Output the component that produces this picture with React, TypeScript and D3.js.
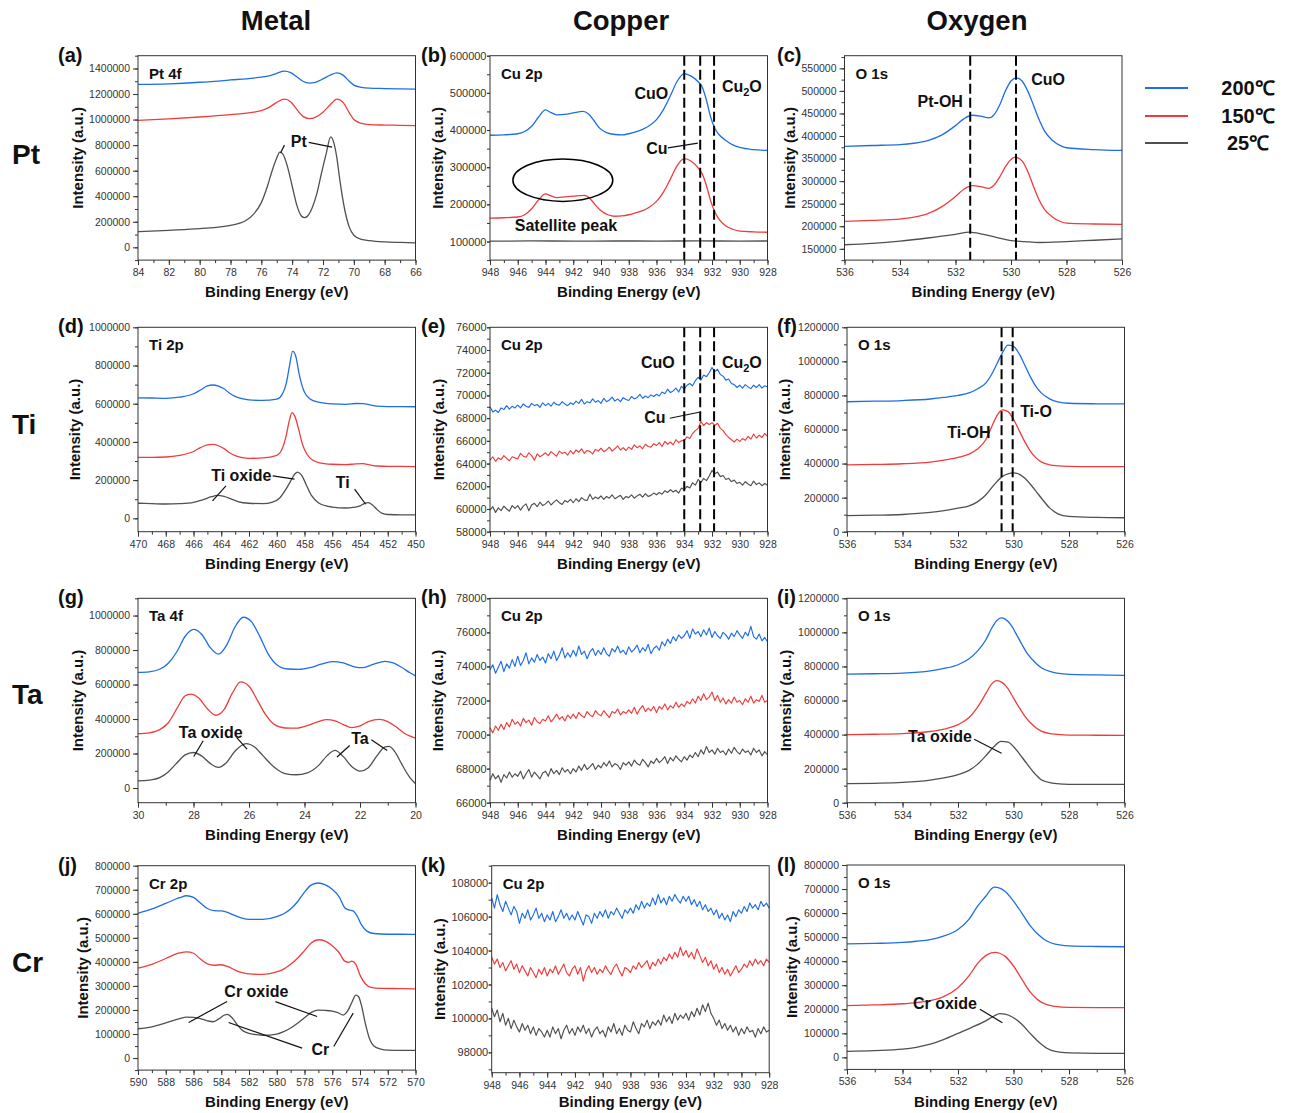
import React, { useEffect, useRef } from 'react';
import * as d3 from 'd3';

type Pt = [number, number];

const FONT = '"Liberation Sans", Arial, Helvetica, sans-serif';
const BLUE = '#1e6ee6';
const RED = '#f03c3c';
const GREY = '#505050';
const COLORS = [BLUE, RED, GREY];

const temps = ['200℃', '150℃', '25℃'];
const columnHeads = ['Metal', 'Copper', 'Oxygen'];
const rowHeads = ['Pt', 'Ti', 'Ta', 'Cr'];

// x tick labels (binding energy, eV)
const ticksPt = [84, 82, 80, 78, 76, 74, 72, 70, 68, 66];
const ticksCu = [948, 946, 944, 942, 940, 938, 936, 934, 932, 930, 928];
const ticksO = [536, 534, 532, 530, 528, 526];
const ticksTi = [470, 468, 466, 464, 462, 460, 458, 456, 454, 452, 450];
const ticksTa = [30, 28, 26, 24, 22, 20];
const ticksCr = [590, 588, 586, 584, 582, 580, 578, 576, 574, 572, 570];

// y tick labels
const yTicksA = [0, 200000, 400000, 600000, 800000, 1000000, 1200000, 1400000];
const yTicksB = [100000, 200000, 300000, 400000, 500000, 600000];
const yTicksC = [150000, 200000, 250000, 300000, 350000, 400000, 450000, 500000, 550000];
const yTicksD = [0, 200000, 400000, 600000, 800000, 1000000];
const yTicksE = [58000, 60000, 62000, 64000, 66000, 68000, 70000, 72000, 74000, 76000];
const yTicksF = [0, 200000, 400000, 600000, 800000, 1000000, 1200000];
const yTicksH = [66000, 68000, 70000, 72000, 74000, 76000, 78000];
const yTicksK = [98000, 100000, 102000, 104000, 106000, 108000];
const yTicksJ = [0, 100000, 200000, 300000, 400000, 500000, 600000, 700000, 800000];

// (a) Pt 4f
const ptBlue: Pt[] = [[84,1275000],[82,1280000],[80,1292000],[78,1310000],[76.5,1325000],[76,1332000],[75.5,1342000],[75,1362000],[74.5,1380000],[74.1,1368000],[73.7,1335000],[73.3,1300000],[72.9,1286000],[72.5,1292000],[72,1318000],[71.5,1350000],[71.1,1366000],[70.7,1348000],[70.3,1300000],[70,1270000],[69.5,1252000],[69,1246000],[68,1243000],[67,1240000],[66,1238000]];
const ptRed: Pt[] = [[84,994000],[82,1005000],[80,1020000],[78,1039000],[76.5,1058000],[76,1070000],[75.5,1095000],[75,1135000],[74.5,1160000],[74.1,1140000],[73.7,1080000],[73.3,1025000],[72.9,1008000],[72.5,1018000],[72,1058000],[71.5,1120000],[71.1,1160000],[70.7,1135000],[70.3,1055000],[70,1000000],[69.5,970000],[69,960000],[68,957000],[67,955000],[66,953000]];
const ptBlack: Pt[] = [[84,122000],[82,133000],[80,146000],[78,172000],[77,210000],[76.5,260000],[76,350000],[75.6,480000],[75.3,600000],[75,700000],[74.8,745000],[74.6,730000],[74.3,630000],[74,480000],[73.7,330000],[73.4,245000],[73.2,232000],[73,245000],[72.7,310000],[72.4,420000],[72.1,580000],[71.8,730000],[71.5,865000],[71.3,820000],[71.1,700000],[70.9,520000],[70.6,300000],[70.3,160000],[70,95000],[69.5,62000],[69,52000],[68,42000],[67,38000],[66,35000]];

// (b) Cu 2p with Pt
const cuBBlue: Pt[] = [[948,386000],[947,387000],[946,390000],[945.5,396000],[945,410000],[944.5,435000],[944,454000],[943.6,447000],[943.2,441000],[942.6,442000],[942,446000],[941.3,450000],[940.9,443000],[940.5,425000],[940.1,405000],[939.6,393000],[939,388000],[938.5,387000],[938,390000],[937.5,395000],[937,402000],[936.5,412000],[936,428000],[935.5,455000],[935,492000],[934.5,532000],[934,552000],[933.5,545000],[933,530000],[932.7,515000],[932.4,480000],[932.1,435000],[931.8,405000],[931.5,388000],[931,372000],[930.5,360000],[930,353000],[929,347000],[928,345000]];
const cuBRed: Pt[] = [[948,163000],[947,164000],[946,166000],[945.5,172000],[945,188000],[944.5,212000],[944,228000],[943.6,223000],[943.2,218000],[942.6,220000],[942,222000],[941.2,224000],[940.8,216000],[940.4,198000],[940,183000],[939.5,172000],[939,168000],[938.5,169000],[938,172000],[937.5,177000],[937,183000],[936.5,193000],[936,208000],[935.5,233000],[935,268000],[934.5,305000],[934,323000],[933.5,316000],[933,298000],[932.7,282000],[932.4,250000],[932.1,210000],[931.8,180000],[931.5,160000],[931,142000],[930.5,133000],[930,128000],[929,126000],[928,125000]];
const cuBBlack: Pt[] = [[948,101000],[945,101500],[942,101200],[939,101400],[936,101300],[933,101600],[930,101300],[928,101400]];

// (c) O 1s with Pt
const oCBlue: Pt[] = [[536,377000],[535,379000],[534,381000],[533.5,384000],[533,390000],[532.5,402000],[532,423000],[531.7,438000],[531.4,446000],[531.1,444000],[530.8,440000],[530.6,448000],[530.4,470000],[530.2,500000],[530,522000],[529.8,529000],[529.6,522000],[529.4,500000],[529.2,470000],[529,438000],[528.8,412000],[528.5,390000],[528.2,378000],[528,374000],[527,370000],[526,368000]];
const oCRed: Pt[] = [[536,211000],[535,213000],[534,216000],[533.5,220000],[533,228000],[532.5,243000],[532,266000],[531.7,282000],[531.4,290000],[531.1,288000],[530.8,284000],[530.6,292000],[530.4,310000],[530.2,332000],[530,348000],[529.85,353000],[529.6,345000],[529.4,322000],[529.2,290000],[529,260000],[528.8,238000],[528.5,220000],[528.2,210000],[528,207000],[527,205000],[526,204000]];
const oCBlack: Pt[] = [[536,159000],[535,162000],[534,167000],[533,174000],[532.5,178000],[532,182000],[531.5,187000],[531,182000],[530.5,175000],[530,168000],[529.5,166000],[529,164000],[528,166000],[527,169000],[526,172000]];

// (d) Ti 2p
const tiBlue: Pt[] = [[470,631000],[469,630000],[468,628000],[467,634000],[466,652000],[465.5,672000],[465,693000],[464.6,698000],[464.2,692000],[463.8,678000],[463.4,655000],[463,638000],[462.5,626000],[462,620000],[461,617000],[460,624000],[459.6,650000],[459.3,710000],[459.1,790000],[458.85,875000],[458.6,840000],[458.4,760000],[458.2,700000],[458,660000],[457.6,625000],[457,608000],[456,599000],[455,597000],[454.3,601000],[453.8,600000],[453.3,594000],[452.8,587000],[452,585000],[451,585000],[450,584000]];
const tiRed: Pt[] = [[470,319000],[469,319000],[468,321000],[467,330000],[466,350000],[465.5,370000],[465,384000],[464.6,387000],[464.2,380000],[463.8,365000],[463.4,343000],[463,328000],[462.5,318000],[462,314000],[461,316000],[460,330000],[459.6,365000],[459.3,440000],[459.1,510000],[458.9,553000],[458.7,535000],[458.4,460000],[458.2,400000],[458,360000],[457.6,315000],[457,292000],[456,283000],[455,281000],[454.3,285000],[453.8,286000],[453.3,280000],[452.8,274000],[452,272000],[451,272000],[450,271000]];
const tiBlack: Pt[] = [[470,79000],[469,77000],[468,75000],[467,77000],[466,84000],[465.3,98000],[464.7,113000],[464.3,120000],[463.8,115000],[463.3,102000],[462.8,88000],[462,79000],[461,77000],[460.3,85000],[459.8,105000],[459.4,145000],[459,195000],[458.7,232000],[458.5,242000],[458.2,225000],[457.9,180000],[457.5,120000],[457,82000],[456.5,66000],[456,59000],[455,54000],[454.5,57000],[454,65000],[453.7,77000],[453.4,82000],[453.1,70000],[452.8,48000],[452.4,26000],[452,20000],[451,18000],[450,18000]];

// noisy Cu 2p scans, 948 -> 928 eV every 0.2 eV
const eBlue = [
  69000, 68550, 68700, 68500, 68900, 68750, 69100, 68800, 69050, 68900,
  69150, 68900, 69250, 69050, 68950, 69300, 69100, 69200, 68950, 69350,
  69100, 69300, 69050, 69400, 69200, 69150, 69450, 69250, 69100, 69350,
  69200, 69500, 69300, 69650, 69250, 69450, 69350, 69700, 69400, 69550,
  69300, 69750, 69450, 69600, 69850, 69500, 69700, 69450, 69800, 69650,
  69550, 69900, 69700, 69800, 70100, 69750, 69950, 69800, 70050, 69900,
  70100, 69950, 70300, 70150, 70550, 70250, 70400, 70650, 70300, 70800,
  70550, 70900, 71050, 70850, 71300, 71600, 71350, 71800, 71650, 72000,
  72450, 72100, 72300, 71850, 71700, 71350, 71450, 71050, 70950, 70700,
  70900, 70650, 70950, 70750, 70600, 70900, 70700, 70950, 70650, 70850,
  70750];
const eRed = [
  64300, 64600, 64200, 64500, 64350, 64700, 64450, 64250, 64600, 64500,
  64400, 64900, 64650, 64550, 64950, 64700, 64300, 64850, 64600, 64750,
  64950, 64700, 65050, 64850, 64650, 65100, 64900, 65000, 64750, 65150,
  64850, 65200, 65000, 65300, 64900, 65150, 65050, 64850, 65250, 65100,
  65350, 65050, 65200, 65450, 65100, 65300, 65550, 65200, 65400, 65150,
  65450, 65250, 65650, 65400, 65550, 65300, 65700, 65500, 65450, 65750,
  65600, 65850, 65500, 65950, 65700, 65900, 65650, 66100, 65850, 66000,
  66050, 66350, 66200, 66650, 66900, 67100, 67700, 67350, 67600, 67450,
  67600, 67350, 67550, 67100, 66900, 66550, 66300, 66100, 65900, 66150,
  65950, 66200, 66050, 66400, 66150, 66600, 66250, 66500, 66300, 66650,
  66400];
const eBlack = [
  59900, 60200, 59700, 60100, 59850, 60250, 60000, 59800, 60300, 60050,
  60300, 59900, 60250, 60450, 59850, 60350, 60500, 60200, 60600, 60300,
  60450, 60700, 60350, 60600, 60800, 60550, 60400, 60750, 60600, 60850,
  60550, 60900, 60650, 61000, 60800, 60750, 61300, 60850, 61050, 60900,
  61150, 60850, 61100, 60950, 61250, 60900, 61050, 61200, 60850, 61100,
  61000, 61250, 60950, 61150, 61300, 61050, 61350, 61100, 61200, 61400,
  61250, 61450, 61300, 61600, 61450, 61700, 61500, 61650, 61400, 61850,
  61700, 62000, 61850, 62300, 62100, 62600, 62350, 62700, 62500, 62900,
  63400, 63100, 63250, 62850, 62950, 62600, 62700, 62400, 62550, 62250,
  62350, 62100, 62400, 62200, 62050, 62450, 62150, 62300, 62050, 62250,
  62100];

const hBlue = [
  73800, 74100, 73600, 73950, 74300, 73700, 74150, 73900, 74400, 74000,
  74600, 74050, 74350, 74800, 74150, 74500, 74250, 74700, 74350, 74550,
  74200, 74750, 74450, 74900, 74350, 74650, 75100, 74500, 74800, 74550,
  74950, 74600, 75200, 74700, 74900, 74450, 74850, 75050, 74650, 74950,
  74700, 75100, 74750, 74600, 75050, 74850, 75200, 74800, 74950, 74700,
  75150, 74850, 75000, 75250, 74800, 75100, 74900, 75300, 74750, 75050,
  75200, 74950, 75450, 75200, 75600, 75350, 75750, 75500, 75850, 75650,
  75800, 76100, 75650, 76200, 75900, 76050, 75750, 76150, 75850, 76250,
  75700, 76050, 75800, 75650, 76000, 75850, 75600, 75950, 75750, 76100,
  75850, 75650, 76000, 75800, 76350, 75750, 75600, 75900, 75500, 75700,
  75450];
const hRed = [
  70400, 70100, 70500, 70250, 70600, 70300, 70700, 70450, 70900, 70600,
  70750, 70500, 70950, 70700, 70850, 70550, 71000, 70750, 70650, 70900,
  70800, 71100, 70750, 70950, 71200, 70900, 71050, 70800, 71150, 70950,
  71200, 70950, 71300, 71100, 71000, 71350, 71150, 71050, 71400, 71200,
  71100, 71400, 71200, 71000, 71350, 71250, 71500, 71150, 71350, 71250,
  71450, 71250, 71600, 71200, 71500, 71700, 71350, 71550, 71400, 71650,
  71300, 71650, 71500, 71800, 71450, 71700, 71550, 71900, 71600, 71800,
  71650, 71950, 71800, 72100, 71850, 72250, 72000, 72400, 72050, 72200,
  72500, 72000, 72300, 71900, 72150, 71800, 72050, 71850, 72200, 71900,
  72000, 71750, 72100, 71900, 72250, 71850, 72050, 71950, 72300, 71900,
  72000];
const hBlack = [
  67300, 67700, 67400, 67600, 67200, 67650, 67450, 67800, 67500, 67700,
  67550, 67850, 67400, 67700, 67950, 67500, 67800, 67600, 67400, 67750,
  67850, 67550, 68000, 67700, 67900, 67650, 68050, 67800, 67950, 67700,
  68000, 67800, 68150, 67900, 68250, 67950, 68100, 68300, 67950, 68200,
  68050, 68350, 68150, 68450, 68100, 68300, 68200, 67950, 68350, 68200,
  68400, 68150, 68500, 68300, 68200, 68550, 68350, 68100, 68450, 68300,
  68600, 68350, 68500, 68700, 68300, 68650, 68450, 68750, 68550, 68400,
  68700, 68500, 68800, 68650, 68950, 68700, 69100, 68850, 69300, 68950,
  69100, 68850, 69200, 68950, 69050, 68800, 69150, 68900, 69250, 69000,
  68850, 69150, 68950, 69050, 68800, 69200, 68950, 69100, 68750, 69000,
  68800];

const kBlue = [
  107100, 106500, 107300, 106700, 106300, 106900, 106500, 106100, 106600, 106300,
  105600, 106200, 105900, 106400, 105800, 106100, 106500, 105900, 106200, 105700,
  106100, 105800, 106300, 105700, 106000, 106400, 105900, 106200, 105800, 106100,
  105800, 106300, 105900, 105500, 106100, 106000, 105600, 106200, 105900, 106300,
  106000, 106400, 105900, 106300, 106100, 106500, 106200, 105900, 106400, 106200,
  106500, 106200, 106700, 106400, 106900, 106500, 106800, 106600, 107100, 106700,
  107300, 106800, 107100, 106700, 107200, 106900, 107300, 107000, 106800, 107200,
  106900, 107200, 106700, 107000, 106600, 106900, 106400, 106700, 106300, 106500,
  106100, 106400, 105900, 106200, 105800, 106100, 105700, 106300, 106000, 106400,
  106200, 106600, 106300, 106800, 106500, 106700, 106400, 106900, 106600, 106800,
  106500];
const kRed = [
  103600, 103200, 103500, 103000, 103300, 102800, 103100, 103400, 102900, 103200,
  102700, 103100, 102800, 102500, 103000, 102700, 102400, 102900, 102600, 103000,
  102500, 102900, 102700, 103100, 102600, 102900, 103200, 102700, 102500, 102900,
  103100, 102600, 103000, 102200, 102800, 103100, 102700, 103000, 102600, 102900,
  102700, 103100, 102800, 102600, 103000, 103200, 102800, 102500, 103000, 102900,
  102700, 103100, 102900, 103300, 103000, 103200, 103400, 102900, 103300, 103100,
  103500, 103200, 103600, 103400, 103800, 103500, 103900, 103600, 104200, 103700,
  104000, 103600, 103900, 103500, 104100, 103700, 103300, 103600, 103100, 103400,
  102900, 103200, 102700, 103000, 102600, 102900, 102500, 102800, 103100, 102700,
  102900, 103200, 103000, 103400, 103100, 103500, 103200, 103400, 103100, 103500,
  103300];
const kBlack = [
  100600, 100100, 100500, 99800, 100300, 99600, 100000, 99400, 99900, 99500,
  99200, 99700, 99300, 99600, 99100, 99500, 99000, 99400, 99200, 98900,
  99300, 98900, 99500, 99100, 99400, 98800, 99300, 99600, 99100, 99400,
  99000, 99500, 99200, 99600, 99100, 99400, 98900, 99300, 99500, 99100,
  99300, 98900, 99500, 99200, 99700, 99100, 99400, 99000, 99600, 99300,
  99200, 99800, 99400, 99100, 99700, 99500, 99900, 99400, 99800, 99600,
  99900, 99600, 100200, 99800, 100100, 99700, 100300, 99900, 100200, 100000,
  100300, 99900, 100400, 100100, 100600, 100200, 100800, 100400, 100900, 100300,
  100000, 99600, 99900, 99400, 99700, 99300, 99600, 99200, 99500, 99000,
  99400, 99100, 99500, 99200, 99300, 98900, 99400, 99100, 99500, 99200,
  99300];

// (f) O 1s with Ti
const ofBlue: Pt[] = [[536,763000],[535,766000],[534,770000],[533,779000],[532.5,788000],[532,800000],[531.6,815000],[531.3,838000],[531,872000],[530.8,920000],[530.6,985000],[530.4,1050000],[530.2,1095000],[530,1088000],[529.8,1045000],[529.6,980000],[529.4,912000],[529.2,855000],[529,815000],[528.7,780000],[528.4,762000],[528,754000],[527,751000],[526,750000]];
const ofRed: Pt[] = [[536,392000],[535,395000],[534,399000],[533,409000],[532.5,420000],[532,436000],[531.6,455000],[531.3,485000],[531,540000],[530.8,610000],[530.6,680000],[530.4,715000],[530.2,705000],[530,660000],[529.8,595000],[529.6,530000],[529.4,475000],[529.2,435000],[529,410000],[528.7,393000],[528.4,387000],[528,384000],[527,382000],[526,382000]];
const ofBlack: Pt[] = [[536,94000],[535,97000],[534,101000],[533,113000],[532.5,124000],[532,138000],[531.6,152000],[531.3,175000],[531,215000],[530.7,275000],[530.4,325000],[530.2,340000],[530,345000],[529.8,338000],[529.6,315000],[529.4,280000],[529.2,240000],[529,198000],[528.7,140000],[528.4,105000],[528,90000],[527,84000],[526,82000]];

// (g) Ta 4f
const taBlue: Pt[] = [[30,671000],[29.6,674000],[29.2,690000],[28.9,725000],[28.6,790000],[28.3,880000],[28,920000],[27.7,890000],[27.4,815000],[27.1,776000],[26.8,830000],[26.5,935000],[26.2,990000],[25.9,962000],[25.6,875000],[25.3,775000],[25,715000],[24.6,690000],[24.2,688000],[23.8,698000],[23.4,718000],[23,733000],[22.6,725000],[22.2,703000],[21.9,698000],[21.5,718000],[21.1,734000],[20.8,725000],[20.5,700000],[20.2,668000],[20,650000]];
const taRed: Pt[] = [[30,315000],[29.6,320000],[29.2,340000],[28.9,380000],[28.6,460000],[28.3,535000],[28.1,545000],[27.8,520000],[27.5,460000],[27.2,422000],[26.9,455000],[26.6,550000],[26.3,615000],[26,590000],[25.7,510000],[25.4,425000],[25.1,370000],[24.7,348000],[24.3,347000],[23.9,362000],[23.5,385000],[23.2,397000],[22.9,390000],[22.6,368000],[22.3,350000],[22,360000],[21.7,385000],[21.3,398000],[21,385000],[20.7,355000],[20.4,318000],[20,290000]];
const taBlack: Pt[] = [[30,42000],[29.6,46000],[29.2,62000],[28.9,95000],[28.6,145000],[28.3,192000],[28,206000],[27.7,185000],[27.4,143000],[27.1,120000],[26.8,150000],[26.5,215000],[26.1,258000],[25.8,238000],[25.5,188000],[25.1,122000],[24.7,84000],[24.3,77000],[23.9,88000],[23.5,130000],[23.2,185000],[22.9,218000],[22.6,182000],[22.3,125000],[22,98000],[21.7,118000],[21.4,185000],[21.1,238000],[20.95,242000],[20.7,200000],[20.5,140000],[20.2,60000],[20,25000]];

// (i) O 1s with Ta
const oiBlue: Pt[] = [[536,755000],[535,757000],[534,761000],[533,774000],[532.5,788000],[532,810000],[531.6,845000],[531.3,890000],[531,955000],[530.8,1020000],[530.6,1070000],[530.45,1085000],[530.3,1078000],[530.1,1045000],[529.9,990000],[529.7,930000],[529.5,875000],[529.2,820000],[529,792000],[528.6,767000],[528.2,756000],[528,753000],[527,750000],[526,748000]];
const oiRed: Pt[] = [[536,400000],[535,402000],[534,406000],[533,418000],[532.5,432000],[532,458000],[531.6,500000],[531.3,560000],[531,640000],[530.8,695000],[530.6,717000],[530.4,705000],[530.2,670000],[530,615000],[529.8,560000],[529.6,510000],[529.3,455000],[529,420000],[528.6,404000],[528.2,398000],[528,397000],[527,396000],[526,395000]];
const oiBlack: Pt[] = [[536,112000],[535,114000],[534,119000],[533,133000],[532.5,146000],[532,165000],[531.6,190000],[531.3,225000],[531,275000],[530.7,330000],[530.45,360000],[530.2,355000],[530,330000],[529.8,290000],[529.5,225000],[529.2,165000],[529,135000],[528.6,115000],[528.2,109000],[528,108000],[527,107000],[526,107000]];

// (j) Cr 2p
const crBlue: Pt[] = [[590,602000],[589,620000],[588,643000],[587,667000],[586.5,675000],[586,668000],[585.5,645000],[585,622000],[584.5,613000],[584,612000],[583.5,605000],[583,592000],[582.5,582000],[582,577000],[581,577000],[580,588000],[579.5,600000],[579,620000],[578.5,650000],[578,690000],[577.5,720000],[577,728000],[576.5,720000],[576,702000],[575.5,670000],[575.1,625000],[574.8,616000],[574.5,612000],[574.2,590000],[573.9,555000],[573.5,528000],[573,518000],[572,515000],[571,515000],[570,514000]];
const crRed: Pt[] = [[590,374000],[589,390000],[588,414000],[587,437000],[586.5,442000],[586,436000],[585.5,412000],[585,392000],[584.5,386000],[584,388000],[583.5,380000],[583,366000],[582.5,355000],[582,350000],[581,348000],[580,358000],[579.5,370000],[579,390000],[578.5,415000],[578,447000],[577.5,480000],[577,492000],[576.5,486000],[576,467000],[575.5,438000],[575.1,403000],[574.8,398000],[574.6,403000],[574.3,390000],[574,345000],[573.6,308000],[573.2,294000],[572.5,290000],[571,289000],[570,288000]];
const crBlack: Pt[] = [[590,122000],[589,130000],[588,146000],[587,164000],[586.5,170000],[586,169000],[585.5,164000],[585,155000],[584.6,151000],[584.2,162000],[583.8,178000],[583.55,182000],[583.2,166000],[582.8,135000],[582.4,112000],[582,103000],[581,95000],[580,100000],[579.5,110000],[579,125000],[578.5,145000],[578,168000],[577.5,190000],[577,199000],[576.5,198000],[576,195000],[575.6,189000],[575.2,179000],[574.9,195000],[574.6,230000],[574.3,262000],[574.1,255000],[573.9,220000],[573.6,140000],[573.3,78000],[573,50000],[572.5,37000],[572,33000],[571,32000],[570,32000]];

// (l) O 1s with Cr
const olBlue: Pt[] = [[536,472000],[535,474000],[534,478000],[533.5,483000],[533,490000],[532.5,505000],[532,532000],[531.6,575000],[531.3,628000],[531,670000],[530.8,700000],[530.7,708000],[530.5,704000],[530.3,690000],[530,650000],[529.7,600000],[529.4,548000],[529.1,510000],[528.8,484000],[528.5,471000],[528,464000],[527,461000],[526,460000]];
const olRed: Pt[] = [[536,215000],[535,218000],[534,223000],[533.5,228000],[533,236000],[532.5,254000],[532,290000],[531.6,340000],[531.3,390000],[531,423000],[530.8,435000],[530.65,437000],[530.5,433000],[530.3,420000],[530,380000],[529.7,325000],[529.4,272000],[529.1,237000],[528.8,219000],[528.5,212000],[528,208000],[527,207000],[526,207000]];
const olBlack: Pt[] = [[536,25000],[535,28000],[534,34000],[533.5,42000],[533,55000],[532.5,75000],[532,100000],[531.5,125000],[531,152000],[530.7,172000],[530.5,182000],[530.3,180000],[530,165000],[529.7,138000],[529.4,100000],[529.1,65000],[528.8,38000],[528.5,25000],[528,19000],[527,17000],[526,17000]];

// sampling grid of the noisy Cu 2p scans
const cuGrid = d3.range(101).map(i => 948 - i * 0.2);
const onGrid = (vals: number[]): Pt[] => vals.map((v, i) => [cuGrid[i], v]);

const cuLines = [934.0, 932.85, 931.85];

interface Note { t: string; at: Pt; sub?: boolean }
interface Panel {
  id: string; title: string; row: number; col: number;
  x: [number, number]; y: [number, number];
  xTicks: number[]; yTicks: number[]; xMinor: number; yMinor: number;
  series: Pt[][]; noisy?: boolean; dashes?: number[];
  notes?: Note[]; leaders?: [Pt, Pt][]; ellipse?: { c: Pt; rx: number; ry: number };
}

const panels: Panel[] = [
  { id: 'a', title: 'Pt 4f', row: 0, col: 0, x: [84, 66], y: [-100000, 1500000], xTicks: ticksPt, yTicks: yTicksA, xMinor: 1, yMinor: 100000,
    series: [ptBlue, ptRed, ptBlack],
    notes: [{ t: 'Pt', at: [73.57, 787000] }],
    leaders: [[[74.5, 800000], [74.75, 740000]], [[72.93, 821000], [71.41, 785000]]] },
  { id: 'b', title: 'Cu 2p', row: 0, col: 1, x: [948, 928], y: [50000, 600000], xTicks: ticksCu, yTicks: yTicksB, xMinor: 1, yMinor: 50000,
    series: [cuBBlue, cuBRed, cuBBlack], dashes: cuLines,
    notes: [{ t: 'CuO', at: [936.37, 483000] }, { t: 'Cu2O', at: [929.85, 502000], sub: true }, { t: 'Cu', at: [935.97, 336000] }, { t: 'Satellite peak', at: [942.53, 127000] }],
    leaders: [[[935.18, 352000], [933.02, 365000]]],
    ellipse: { c: [942.75, 265000], rx: 3.6, ry: 57000 } },
  { id: 'c', title: 'O 1s', row: 0, col: 2, x: [536, 526], y: [125000, 578000], xTicks: ticksO, yTicks: yTicksC, xMinor: 1, yMinor: 25000,
    series: [oCBlue, oCRed, oCBlack], dashes: [531.47, 529.82],
    notes: [{ t: 'Pt-OH', at: [532.55, 465000] }, { t: 'CuO', at: [528.66, 513500] }] },
  { id: 'd', title: 'Ti 2p', row: 1, col: 0, x: [470, 450], y: [-70000, 1000000], xTicks: ticksTi, yTicks: yTicksD, xMinor: 1, yMinor: 100000,
    series: [tiBlue, tiRed, tiBlack],
    notes: [{ t: 'Ti oxide', at: [462.56, 196000] }, { t: 'Ti', at: [455.25, 159500] }],
    leaders: [[[463.66, 170000], [464.63, 91000]], [[460.29, 222600], [458.72, 205000]], [[454.39, 152600], [453.59, 73700]]] },
  { id: 'e', title: 'Cu 2p', row: 1, col: 1, x: [948, 928], y: [58000, 76000], xTicks: ticksCu, yTicks: yTicksE, xMinor: 1, yMinor: 1000,
    series: [onGrid(eBlue), onGrid(eRed), onGrid(eBlack)], noisy: true, dashes: cuLines,
    notes: [{ t: 'CuO', at: [935.9, 72417] }, { t: 'Cu2O', at: [929.85, 72417], sub: true }, { t: 'Cu', at: [936.12, 67575] }],
    leaders: [[[935.04, 67989], [932.93, 68517]]] },
  { id: 'f', title: 'O 1s', row: 1, col: 2, x: [536, 526], y: [0, 1200000], xTicks: ticksO, yTicks: yTicksF, xMinor: 1, yMinor: 100000,
    series: [ofBlue, ofRed, ofBlack], dashes: [530.43, 530.03],
    notes: [{ t: 'Ti-OH', at: [531.61, 548000] }, { t: 'Ti-O', at: [529.19, 673500] }] },
  { id: 'g', title: 'Ta 4f', row: 2, col: 0, x: [30, 20], y: [-85000, 1100000], xTicks: ticksTa, yTicks: yTicksD, xMinor: 1, yMinor: 100000,
    series: [taBlue, taRed, taBlack],
    notes: [{ t: 'Ta oxide', at: [27.38, 292000] }, { t: 'Ta', at: [22.0, 257000] }],
    leaders: [[[27.65, 274000], [27.99, 183000]], [[26.45, 293600], [26.07, 226000]], [[22.37, 247000], [22.83, 180000]], [[21.59, 280000], [21.02, 218000]]] },
  { id: 'h', title: 'Cu 2p', row: 2, col: 1, x: [948, 928], y: [66000, 78000], xTicks: ticksCu, yTicks: yTicksH, xMinor: 1, yMinor: 1000,
    series: [onGrid(hBlue), onGrid(hRed), onGrid(hBlack)], noisy: true },
  { id: 'i', title: 'O 1s', row: 2, col: 2, x: [536, 526], y: [0, 1200000], xTicks: ticksO, yTicks: yTicksF, xMinor: 1, yMinor: 100000,
    series: [oiBlue, oiRed, oiBlack],
    notes: [{ t: 'Ta oxide', at: [532.65, 359000] }],
    leaders: [[[531.42, 372000], [530.43, 290000]]] },
  { id: 'j', title: 'Cr 2p', row: 3, col: 0, x: [590, 570], y: [-50000, 800000], xTicks: ticksCr, yTicks: yTicksJ, xMinor: 1, yMinor: 50000,
    series: [crBlue, crRed, crBlack],
    notes: [{ t: 'Cr oxide', at: [581.47, 254600] }, { t: 'Cr', at: [576.85, 13700] }],
    leaders: [[[583.58, 235000], [586.35, 148000]], [[580.1, 235000], [577.09, 172800]], [[578.17, 41500], [583.47, 148000]], [[575.89, 48000], [574.49, 187000]]] },
  { id: 'k', title: 'Cu 2p', row: 3, col: 1, x: [948, 928], y: [96800, 109000], xTicks: ticksCu, yTicks: yTicksK, xMinor: 1, yMinor: 1000,
    series: [onGrid(kBlue), onGrid(kRed), onGrid(kBlack)], noisy: true },
  { id: 'l', title: 'O 1s', row: 3, col: 2, x: [536, 526], y: [-50000, 800000], xTicks: ticksO, yTicks: yTicksJ, xMinor: 1, yMinor: 50000,
    series: [olBlue, olRed, olBlack],
    notes: [{ t: 'Cr oxide', at: [532.47, 201000] }],
    leaders: [[[531.21, 200000], [530.4, 144000]]] },
];

// layout of the grid
const colLeft = [138, 490, 847];
const rowTop = [55.7, 327.3, 598.3, 865.7];
const plotW = 277.5;
const plotH = 204.4;
const labelX = [58, 421, 777];
// distance of the rotated y title from the plot edge
const yTitleGap: Record<string, number> = { a: 55, b: 47, c: 50, d: 58, e: 46, f: 57, g: 55, h: 47, i: 56, j: 50, k: 47, l: 50 };
const boxFor = (p: Panel) => {
  let left = colLeft[p.col];
  let top = rowTop[p.row];
  let h = plotH;
  if (p.id === 'c') left = 844.5;
  if (p.id === 'k') { left = 491.7; h = 207; }
  if (p.id === 'l') top = 865;
  return { left, top, w: plotW, h };
};

const App = () => {
  const svgRef = useRef<SVGSVGElement>(null);

  useEffect(() => {
    const svg = d3.select(svgRef.current);
    svg.selectAll('*').remove();
    svg.append('rect').attr('width', 1292).attr('height', 1113).attr('fill', '#fff');

    panels.forEach(p => {
      const b = boxFor(p);
      const x = d3.scaleLinear().domain(p.x).range([b.left, b.left + b.w]);
      const y = d3.scaleLinear().domain(p.y).range([b.top + b.h, b.top]);
      const g = svg.append('g');
      const midCol = p.col === 1;

      const line = d3.line<Pt>()
        .x(d => x(d[0]))
        .y(d => y(d[1]))
        .curve(p.noisy ? d3.curveLinear : d3.curveMonotoneX);

      p.series.forEach((s, i) => {
        g.append('path')
          .attr('d', line(s))
          .attr('fill', 'none')
          .attr('stroke', COLORS[i])
          .attr('stroke-width', p.noisy ? 1.15 : 1.3)
          .attr('stroke-linejoin', 'round');
      });

      (p.dashes || []).forEach(e => {
        g.append('line')
          .attr('x1', x(e)).attr('x2', x(e))
          .attr('y1', b.top).attr('y2', b.top + b.h)
          .attr('stroke', '#000')
          .attr('stroke-width', 2)
          .attr('stroke-dasharray', '10,4');
      });

      // frame
      g.append('rect')
        .attr('x', b.left).attr('y', b.top)
        .attr('width', b.w).attr('height', b.h)
        .attr('fill', 'none')
        .attr('stroke', '#333')
        .attr('stroke-width', 1);

      // minor ticks
      const xMin = d3.range(Math.min(...p.x), Math.max(...p.x) + 0.001, p.xMinor);
      const yMin = d3.range(Math.ceil(p.y[0] / p.yMinor) * p.yMinor, p.y[1] + 1, p.yMinor);
      g.append('g')
        .attr('transform', `translate(0,${b.top + b.h})`)
        .call(d3.axisBottom(x).tickValues(xMin).tickSize(3).tickFormat(() => ''))
        .call(a => a.select('.domain').remove());
      g.append('g')
        .attr('transform', `translate(${b.left},0)`)
        .call(d3.axisLeft(y).tickValues(yMin).tickSize(3).tickFormat(() => ''))
        .call(a => a.select('.domain').remove());

      // major ticks
      const xa = g.append('g')
        .attr('transform', `translate(0,${b.top + b.h})`)
        .call(d3.axisBottom(x).tickValues(p.xTicks).tickSize(5).tickPadding(3.5).tickFormat(d3.format('d')));
      const ya = g.append('g')
        .attr('transform', `translate(${b.left},0)`)
        .call(d3.axisLeft(y).tickValues(p.yTicks).tickSize(midCol ? 3 : 5).tickPadding(midCol ? 0.5 : 3).tickFormat(d3.format('d')));
      xa.select('.domain').remove();
      ya.select('.domain').remove();
      xa.attr('font-family', FONT).attr('font-size', 10.5);
      ya.attr('font-family', FONT).attr('font-size', midCol ? 11 : 10.5);
      g.selectAll('.tick text').attr('fill', '#333');
      g.selectAll('.tick line').attr('stroke', '#333');

      // axis titles
      g.append('text')
        .attr('x', b.left + b.w / 2).attr('y', rowTop[p.row] + plotH + 37)
        .attr('text-anchor', 'middle')
        .attr('font-family', FONT).attr('font-weight', 'bold').attr('font-size', 15)
        .attr('fill', '#111')
        .text('Binding Energy (eV)');
      g.append('text')
        .attr('transform', `translate(${b.left - yTitleGap[p.id]},${b.top + b.h / 2}) rotate(-90)`)
        .attr('text-anchor', 'middle')
        .attr('font-family', FONT).attr('font-weight', 'bold').attr('font-size', 15)
        .attr('fill', '#111')
        .text('Intensity (a.u.)');

      // panel letter and element title
      g.append('text')
        .attr('x', labelX[p.col]).attr('y', rowTop[p.row] + 6)
        .attr('font-family', FONT).attr('font-weight', 'bold').attr('font-size', 20)
        .attr('fill', '#111')
        .text(`(${p.id})`);
      g.append('text')
        .attr('x', b.left + 11).attr('y', b.top + 23)
        .attr('font-family', FONT).attr('font-weight', 'bold').attr('font-size', 15)
        .attr('fill', '#111')
        .text(p.title);

      // annotations
      if (p.ellipse) {
        const e = p.ellipse;
        g.append('ellipse')
          .attr('cx', x(e.c[0])).attr('cy', y(e.c[1]))
          .attr('rx', Math.abs(x(e.c[0] - e.rx) - x(e.c[0])))
          .attr('ry', Math.abs(y(e.c[1] + e.ry) - y(e.c[1])))
          .attr('fill', 'none').attr('stroke', '#000').attr('stroke-width', 1.5);
      }
      (p.leaders || []).forEach(([s, t]) => {
        g.append('line')
          .attr('x1', x(s[0])).attr('y1', y(s[1]))
          .attr('x2', x(t[0])).attr('y2', y(t[1]))
          .attr('stroke', '#111').attr('stroke-width', 1.2);
      });
      (p.notes || []).forEach(n => {
        const t = g.append('text')
          .attr('x', x(n.at[0])).attr('y', y(n.at[1]))
          .attr('text-anchor', 'middle')
          .attr('font-family', FONT).attr('font-weight', 'bold').attr('font-size', 16)
          .attr('fill', '#111');
        if (n.sub) {
          t.append('tspan').text('Cu');
          t.append('tspan').attr('font-size', 11).attr('dy', 4).text('2');
          t.append('tspan').attr('dy', -4).text('O');
        } else {
          t.text(n.t);
        }
      });
    });

    // column and row headings
    const headX = [276, 621, 977];
    columnHeads.forEach((h, i) => {
      svg.append('text')
        .attr('x', headX[i]).attr('y', 30)
        .attr('text-anchor', 'middle')
        .attr('font-family', FONT).attr('font-weight', 'bold').attr('font-size', 27.5)
        .attr('fill', '#111')
        .text(h);
    });
    const rowY = [164, 434, 704, 972];
    rowHeads.forEach((h, i) => {
      svg.append('text')
        .attr('x', 12).attr('y', rowY[i])
        .attr('font-family', FONT).attr('font-weight', 'bold').attr('font-size', 28)
        .attr('fill', '#111')
        .text(h);
    });

    // legend
    const legY = [88, 116, 143];
    temps.forEach((t, i) => {
      svg.append('line')
        .attr('x1', 1145).attr('x2', 1188)
        .attr('y1', legY[i]).attr('y2', legY[i])
        .attr('stroke', COLORS[i]).attr('stroke-width', 2);
      svg.append('text')
        .attr('x', 1248).attr('y', legY[i] + 7)
        .attr('text-anchor', 'middle')
        .attr('font-family', FONT).attr('font-weight', 'bold').attr('font-size', 20)
        .attr('fill', '#111')
        .text(t);
    });
  }, []);

  return (
    <svg
      ref={svgRef}
      width={1292}
      height={1113}
      style={{ position: 'absolute', left: 0, top: 0, display: 'block' }}
    />
  );
};

export default App;
